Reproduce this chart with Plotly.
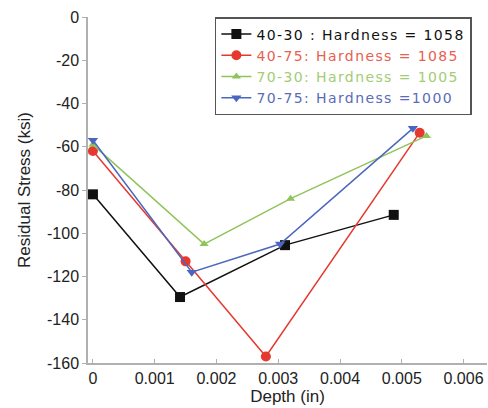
import plotly.graph_objects as go

depth_4030 = [0.0, 0.00141, 0.00311, 0.00487]
stress_4030 = [-82, -129.5, -105.5, -91.5]

depth_4075 = [0.0, 0.00150, 0.00280, 0.00529]
stress_4075 = [-62, -113, -157, -53.5]

depth_7030 = [0.0, 0.00180, 0.00320, 0.00540]
stress_7030 = [-59, -105, -84, -55]

depth_7075 = [0.0, 0.00160, 0.00303, 0.00518]
stress_7075 = [-57, -118, -105, -51.5]

names = ["40-30 : Hardness = 1058", "40-75: Hardness = 1085",
         "70-30: Hardness = 1005", "70-75: Hardness =1000"]
x_ticks = [0, 0.001, 0.002, 0.003, 0.004, 0.005, 0.006]
x_tick_labels = ["0", "0.001", "0.002", "0.003", "0.004", "0.005", "0.006"]
y_ticks = [0, -20, -40, -60, -80, -100, -120, -140, -160]
y_tick_labels = ["0", "-20", "-40", "-60", "-80", "-100", "-120", "-140", "-160"]

series = [
    (depth_4030, stress_4030, "#111111", "#111111", "square", 10),
    (depth_4075, stress_4075, "#e5382f", "#e8604f", "circle", 10),
    (depth_7030, stress_7030, "#8fc45a", "#a3cc73", "triangle-up", 8),
    (depth_7075, stress_7075, "#4a66bf", "#5a6cb8", "triangle-down", 9),
]

fig = go.Figure()
for (x, y, col, tcol, sym, sz), nm in zip(series, names):
    fig.add_trace(go.Scatter(
        x=x, y=y, mode="lines+markers",
        name=f"<span style='color:{tcol};letter-spacing:1.4px'>{nm}</span>",
        line=dict(color=col, width=1.5),
        marker=dict(color=col, symbol=sym, size=sz),
    ))

font = "Liberation Sans, Arial, sans-serif"
fig.update_layout(
    width=488, height=408,
    margin=dict(l=88, r=1, t=17, b=45),
    paper_bgcolor="white", plot_bgcolor="white",
    font=dict(family=font, size=16, color="#222"),
    showlegend=True,
    legend=dict(x=0.318, y=1, xanchor="left", yanchor="top",
                bgcolor="white", bordercolor="#555", borderwidth=1.5,
                font=dict(size=14, family="DejaVu Sans, sans-serif"),
                tracegroupgap=0, itemwidth=30),
    xaxis=dict(range=[-0.00008, 0.00638], tickvals=x_ticks, ticktext=x_tick_labels,
               showgrid=False, zeroline=False, showline=True, linecolor="#b0b0b0",
               linewidth=1.5, ticks="inside", ticklen=4, tickcolor="#b0b0b0",
               title=dict(text="Depth (in)", font=dict(size=17), standoff=4)),
    yaxis=dict(range=[-160, 0], tickvals=y_ticks, ticktext=y_tick_labels,
               showgrid=False, zeroline=False,
               showline=True, linecolor="#b0b0b0", linewidth=1.5, ticks="outside",
               ticklen=4, tickcolor="#b0b0b0",
               title=dict(text="Residual Stress (ksi)", font=dict(size=17), standoff=12)),
)

fig.write_html("out.html", config={"displayModeBar": False},
               post_script="document.body.style.margin='0';")
